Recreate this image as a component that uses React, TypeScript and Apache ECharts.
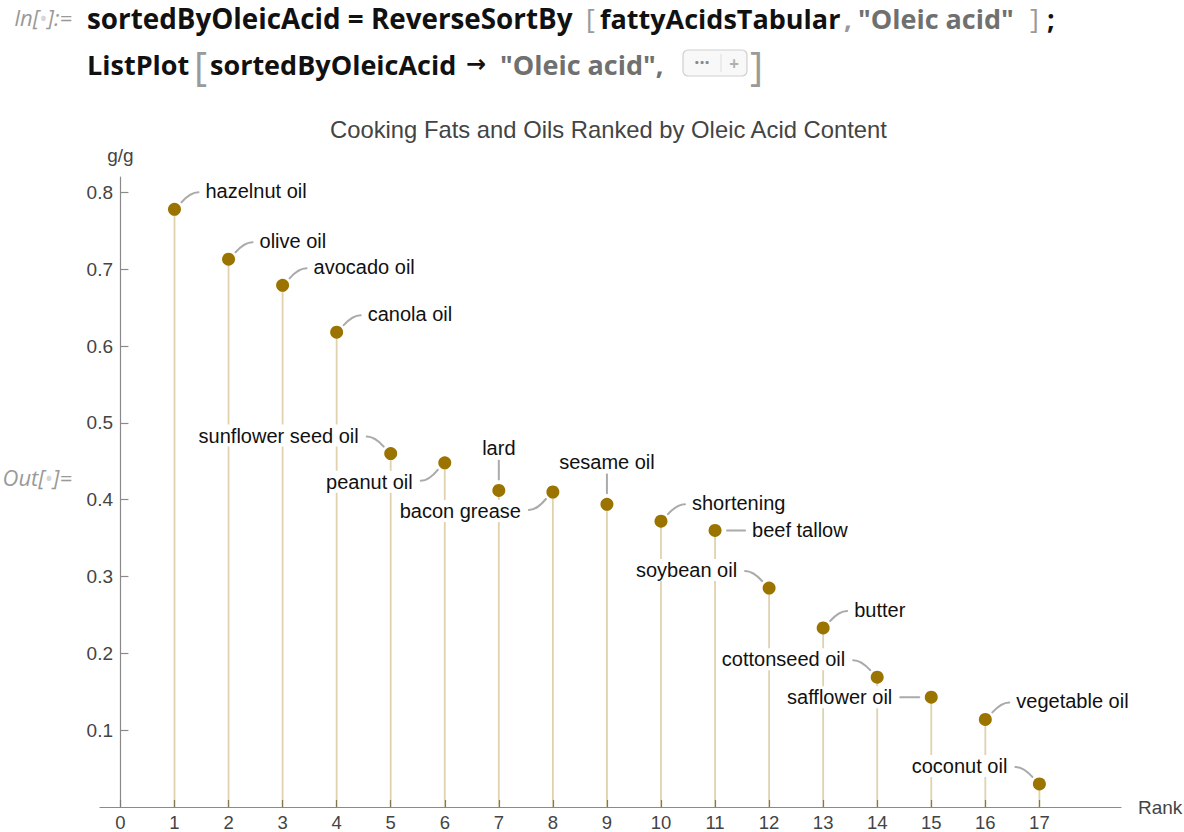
import React, { useEffect, useRef } from "react";
import * as echarts from "echarts";

const RANKS = [1, 2, 3, 4, 5, 6, 7, 8, 9, 10, 11, 12, 13, 14, 15, 16, 17];
const OLEIC = [0.778, 0.713, 0.679, 0.618, 0.460, 0.448, 0.412, 0.410, 0.394, 0.372, 0.360, 0.285, 0.233, 0.169, 0.143, 0.114, 0.030];
const FATS = [
  "hazelnut oil", "olive oil", "avocado oil", "canola oil", "sunflower seed oil",
  "peanut oil", "lard", "bacon grease", "sesame oil", "shortening", "beef tallow",
  "soybean oil", "butter", "cottonseed oil", "safflower oil", "vegetable oil", "coconut oil",
];
const CALLOUT_SIDES = ["ne", "ne", "ne", "ne", "nw", "sw", "n", "sw", "n", "ne", "e", "nw", "ne", "nw", "w", "ne", "nw"];
const X_TICKS = [0, 1, 2, 3, 4, 5, 6, 7, 8, 9, 10, 11, 12, 13, 14, 15, 16, 17];
const Y_TICKS = [0.1, 0.2, 0.3, 0.4, 0.5, 0.6, 0.7, 0.8];

const TITLE = "Cooking Fats and Oils Ranked by Oleic Acid Content";
const SANS = '"Liberation Sans", Arial, sans-serif';
const CODE = '"Open Sans", "Noto Sans", sans-serif';
const POINT = "#9b7400";
const STEM = "rgba(155,116,0,0.32)";
const AXIS = "#8a8a8a";
const TICKTXT = "#444";
const CODE_SIZE = 27;

function calloutGeom(side: string, px: number, py: number) {
  switch (side) {
    case "ne":
      return { curve: [px + 7, py - 7, px + 16, py - 17, px + 24, py - 17], tx: px + 30, ty: py - 18, align: "left" };
    case "nw":
      return { curve: [px - 7, py - 7, px - 16, py - 17, px - 24, py - 17], tx: px - 31, ty: py - 18, align: "right" };
    case "sw":
      return { curve: [px - 7, py + 7, px - 16, py + 18, px - 24, py + 18], tx: px - 31, ty: py + 19, align: "right" };
    case "n":
      return { line: [px, py - 11, px, py - 30], tx: px, ty: py - 42, align: "center" };
    case "e":
      return { line: [px + 12, py, px + 30, py], tx: px + 36, ty: py, align: "left" };
    default:
      return { line: [px - 12, py, px - 31, py], tx: px - 38, ty: py, align: "right" };
  }
}

function codeText(x: number, y: number, text: string, fill: string, extra: any = {}) {
  return {
    type: "text",
    x,
    y,
    style: {
      text,
      fill,
      fontFamily: CODE,
      fontSize: CODE_SIZE,
      fontWeight: "bold",
      align: "left",
      verticalAlign: "middle",
      ...extra,
    },
  };
}

export default function App() {
  const ref = useRef<HTMLDivElement>(null);

  useEffect(() => {
    if (!ref.current) return;
    const chart = echarts.init(ref.current, undefined, { renderer: "svg" });
    const pts = RANKS.map((r, i) => [r, OLEIC[i]]);

    const promptRich = {
      a: { fontFamily: CODE, fontStyle: "italic", fontSize: 22, fill: "#9a9a9a" },
      d: { fontFamily: CODE, fontSize: 22, fill: "#d6d6d6" },
    };

    const header: any[] = [
      {
        type: "text",
        x: 72,
        y: 17,
        style: { text: "{a|In[}{d|•}{a|]:=}", align: "right", verticalAlign: "middle", rich: promptRich },
      },
      {
        type: "text",
        x: 72,
        y: 477,
        style: { text: "{a|Out[}{d|•}{a|]=}", align: "right", verticalAlign: "middle", rich: promptRich },
      },
      codeText(87, 18, "sortedByOleicAcid = ReverseSortBy", "#111", { fontSize: 27.8 }),
      codeText(586, 18, "[", "#9a9a9a", { fontWeight: "normal" }),
      codeText(600, 18, "fattyAcidsTabular", "#111"),
      codeText(844, 18, ",", "#9a9a9a"),
      codeText(858, 18, '"Oleic acid"', "#707070"),
      codeText(1030, 18, "]", "#9a9a9a", { fontWeight: "normal" }),
      codeText(1047, 18, ";", "#111"),
      codeText(87, 64, "ListPlot", "#111"),
      codeText(194, 65, "[", "#9a9a9a", { fontWeight: "normal", fontSize: 40 }),
      codeText(210, 64, "sortedByOleicAcid", "#111"),
      codeText(466, 64, "→", "#111", { fontFamily: '"DejaVu Sans", sans-serif', fontSize: 24 }),
      codeText(500, 64, '"Oleic acid",', "#707070"),
      {
        type: "rect",
        shape: { x: 683, y: 50, width: 64, height: 26, r: 5 },
        style: { fill: "#f8f8f8", stroke: "#cfcfcf", lineWidth: 1.2 },
      },
      {
        type: "line",
        shape: { x1: 721, y1: 54, x2: 721, y2: 72 },
        style: { stroke: "#dedede", lineWidth: 1 },
      },
      {
        type: "text",
        x: 702,
        y: 62,
        style: { text: "···", fill: "#888", fontFamily: CODE, fontSize: 18, fontWeight: "bold", align: "center", verticalAlign: "middle" },
      },
      {
        type: "text",
        x: 734,
        y: 63,
        style: { text: "+", fill: "#b0b0b0", fontFamily: CODE, fontSize: 17, fontWeight: "bold", align: "center", verticalAlign: "middle" },
      },
      codeText(750, 65, "]", "#9a9a9a", { fontWeight: "normal", fontSize: 40 }),
    ];

    chart.setOption({
      animation: false,
      backgroundColor: "#fff",
      title: {
        text: TITLE,
        left: 330,
        top: 117,
        padding: 0,
        textStyle: { fontFamily: SANS, fontSize: 23.8, fontWeight: "normal", color: "#444" },
      },
      graphic: { elements: header },
      grid: { left: 100, right: 63, top: 177, bottom: 25, containLabel: false, outerBoundsMode: "none" },
      xAxis: {
        type: "value",
        min: -0.378,
        max: 18.51,
        name: "Rank",
        nameLocation: "end",
        nameGap: 17,
        nameTextStyle: { fontFamily: SANS, fontSize: 19, color: TICKTXT, align: "left", verticalAlign: "middle" },
        axisLine: { show: true, lineStyle: { color: AXIS, width: 1.2 } },
        axisTick: { show: true, inside: true, length: 7, customValues: X_TICKS, lineStyle: { color: "#7a7a7a", width: 1.2 } },
        axisLabel: {
          customValues: X_TICKS,
          margin: 6,
          fontFamily: SANS,
          fontSize: 18.5,
          color: TICKTXT,
          formatter: (v: number) => String(Math.round(v)),
        },
        splitLine: { show: false },
      },
      yAxis: {
        type: "value",
        min: 0,
        max: 0.82,
        name: "g/g",
        nameLocation: "end",
        nameGap: 12,
        nameTextStyle: { fontFamily: SANS, fontSize: 19, color: TICKTXT, align: "center" },
        axisLine: { show: true, onZero: true, lineStyle: { color: AXIS, width: 1.2 } },
        axisTick: { show: true, inside: true, length: 8, customValues: Y_TICKS, lineStyle: { color: AXIS, width: 1.2 } },
        axisLabel: {
          customValues: Y_TICKS,
          margin: -13,
          fontFamily: SANS,
          fontSize: 19,
          color: TICKTXT,
          formatter: (v: number) => v.toFixed(1),
        },
        splitLine: { show: false },
      },
      series: [
        {
          type: "custom",
          name: "stems",
          z: 1,
          data: pts,
          encode: { x: 0, y: 1 },
          silent: true,
          renderItem: (_p: any, api: any) => {
            const top = api.coord([api.value(0), api.value(1)]);
            const base = api.coord([api.value(0), 0]);
            return {
              type: "line",
              shape: { x1: top[0], y1: top[1], x2: base[0], y2: base[1] },
              style: { stroke: STEM, lineWidth: 1.8 },
            };
          },
        },
        {
          type: "scatter",
          name: "Oleic acid",
          z: 3,
          data: pts,
          symbol: "circle",
          symbolSize: 13,
          itemStyle: { color: POINT, opacity: 1 },
        },
        {
          type: "custom",
          name: "callouts",
          z: 4,
          data: pts,
          encode: { x: 0, y: 1 },
          silent: true,
          renderItem: (params: any, api: any) => {
            const i = params.dataIndex;
            const p = api.coord([api.value(0), api.value(1)]);
            const g: any = calloutGeom(CALLOUT_SIDES[i], p[0], p[1]);
            const children: any[] = [];
            if (g.curve) {
              const c = g.curve;
              children.push({
                type: "bezierCurve",
                shape: { x1: c[0], y1: c[1], cpx1: c[2], cpy1: c[3], x2: c[4], y2: c[5] },
                style: { stroke: "#aaaaaa", lineWidth: 2, fill: "none", lineCap: "round" },
              });
            } else {
              const l = g.line;
              children.push({
                type: "line",
                shape: { x1: l[0], y1: l[1], x2: l[2], y2: l[3] },
                style: { stroke: "#aaaaaa", lineWidth: 2, lineCap: "round" },
              });
            }
            children.push({
              type: "text",
              x: g.tx,
              y: g.ty,
              style: {
                text: FATS[i],
                fill: "#111",
                fontFamily: SANS,
                fontSize: 20,
                align: g.align,
                verticalAlign: "middle",
                backgroundColor: "#fff",
                padding: [1, 1],
              },
            });
            return { type: "group", children };
          },
        },
      ],
    });

    return () => chart.dispose();
  }, []);

  return (
    <div
      ref={ref}
      style={{ position: "fixed", left: 0, top: 0, width: 1184, height: 832, background: "#fff" }}
    />
  );
}
